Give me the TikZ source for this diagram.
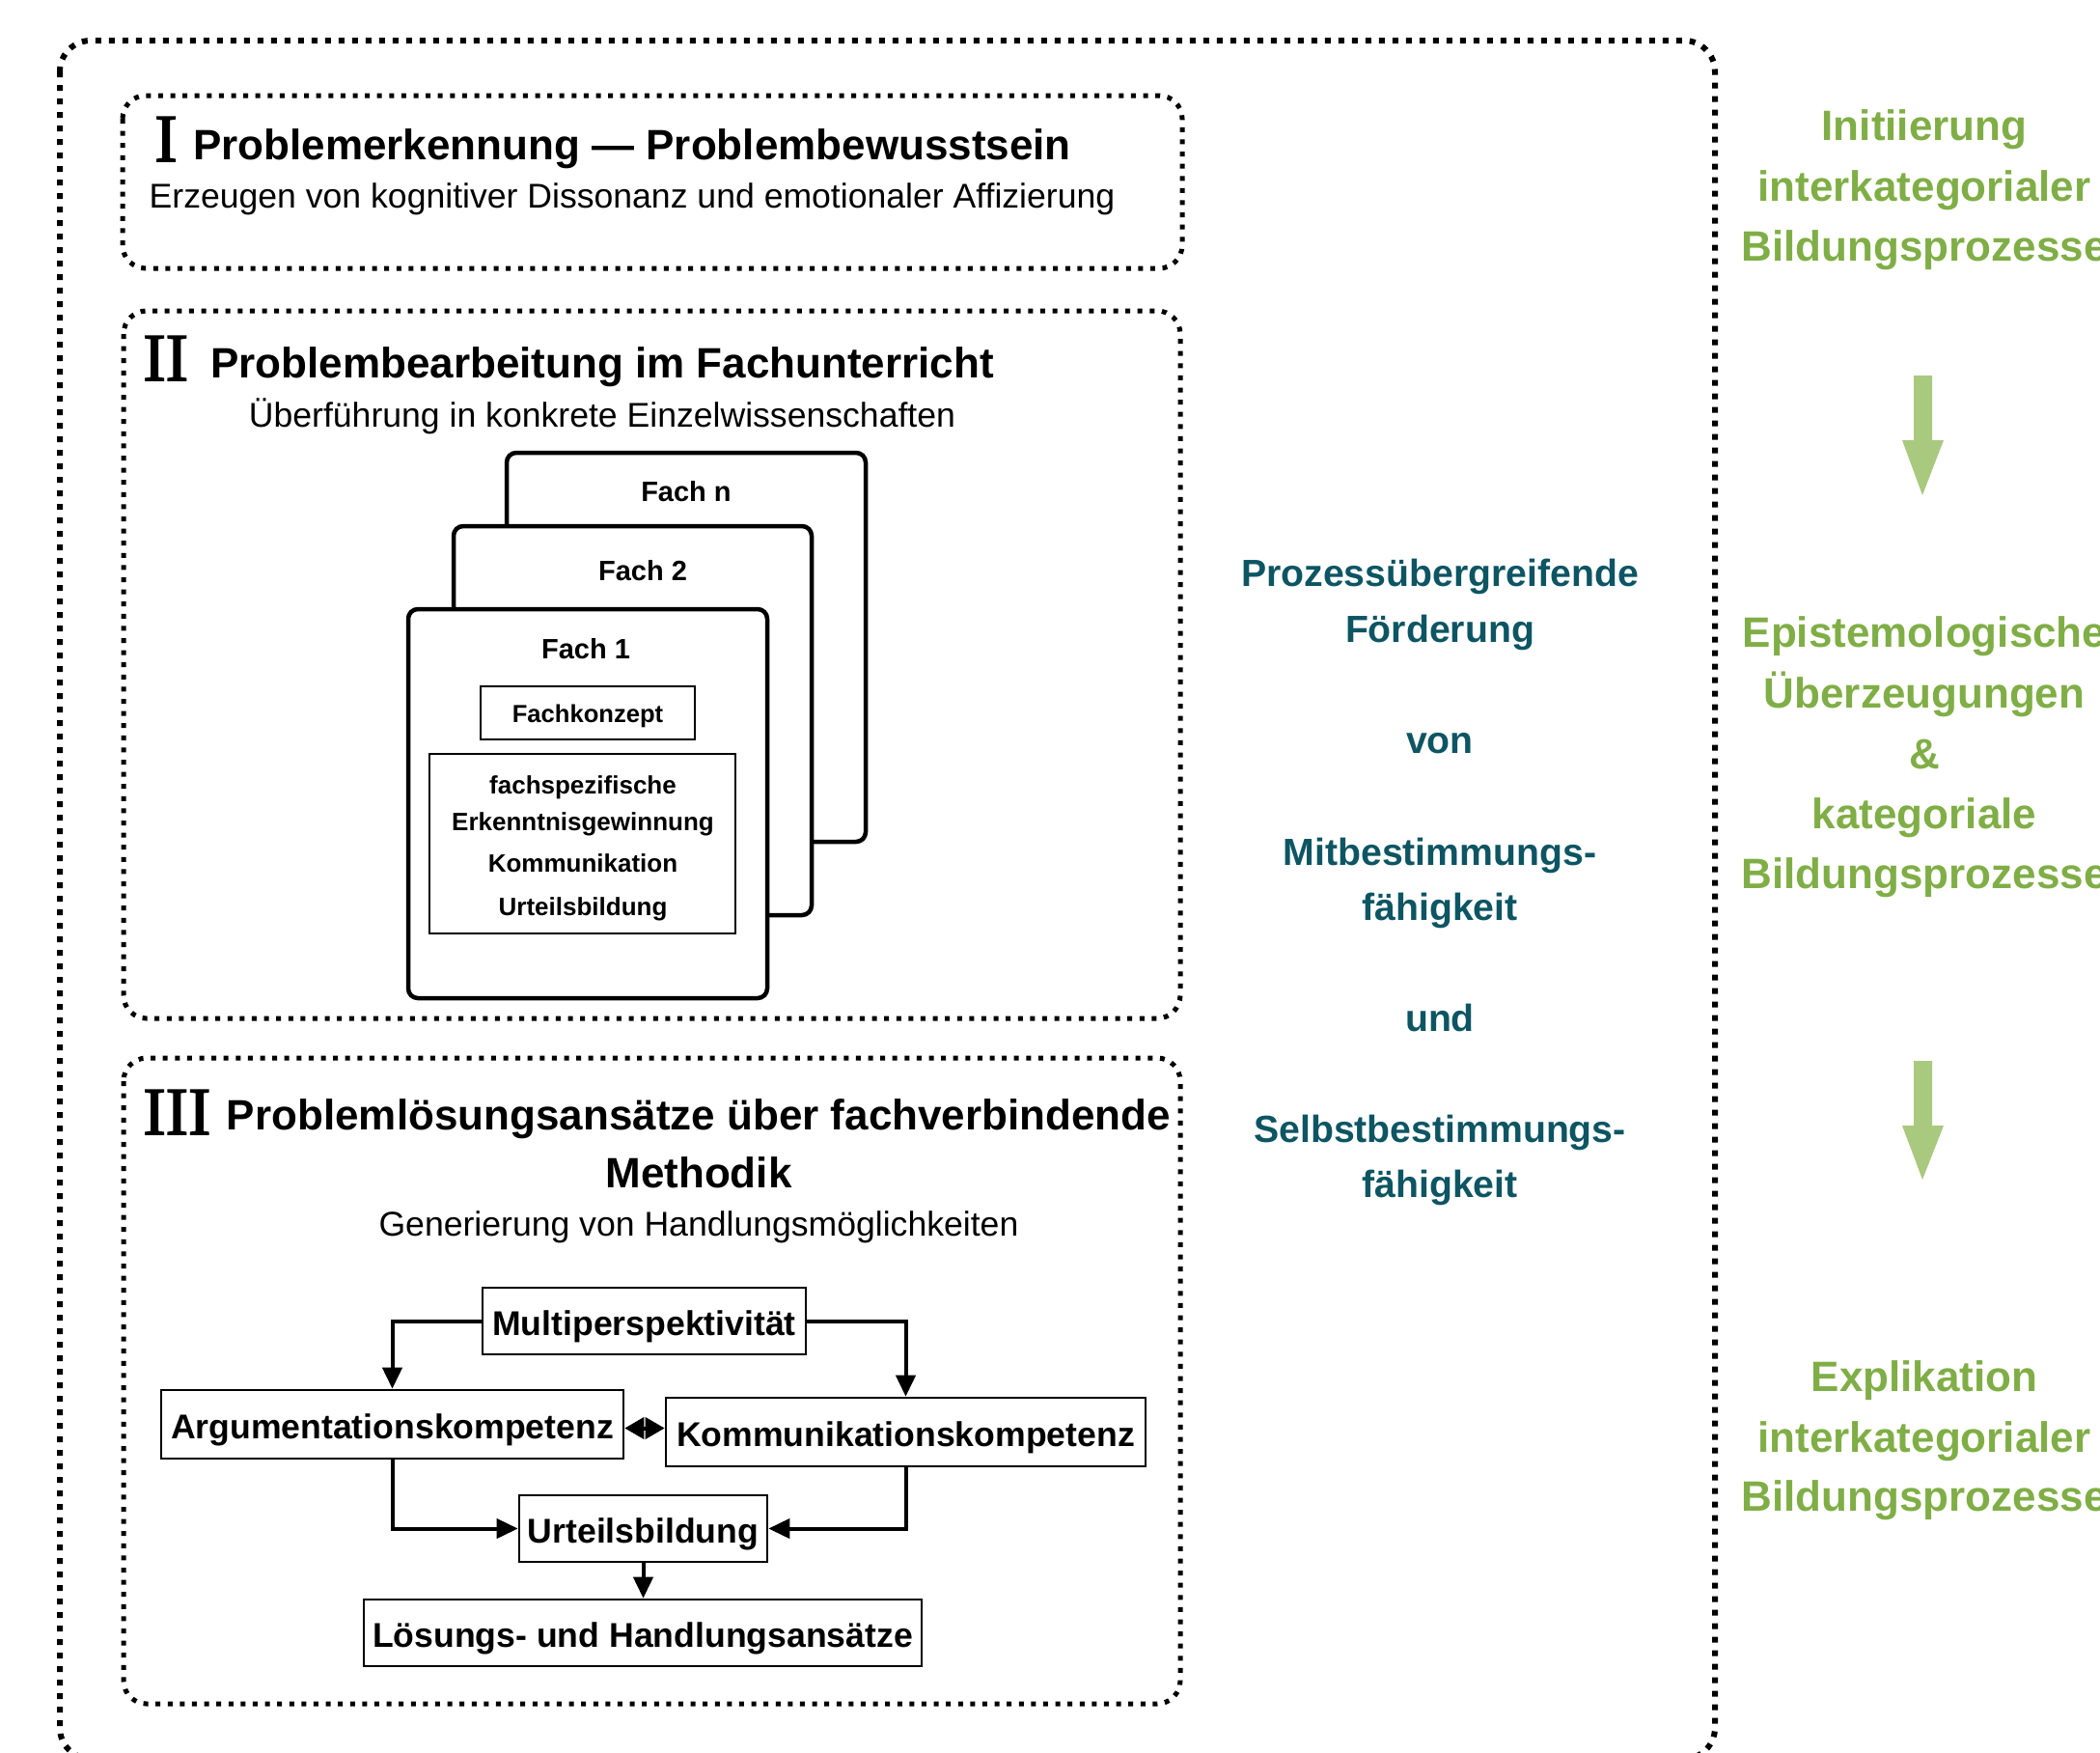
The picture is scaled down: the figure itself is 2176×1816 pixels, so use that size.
\documentclass[tikz,border=0pt]{standalone}
\usepackage{fontspec}
\setmainfont{Liberation Sans}
\newfontfamily\romfont[FakeBold=2.2]{Liberation Serif}
\usetikzlibrary{arrows.meta,calc}
\definecolor{tealtext}{HTML}{0D5563}
\definecolor{greentext}{HTML}{80AE46}
\definecolor{greenarrow}{HTML}{A9C97E}
\begin{document}
\begin{tikzpicture}[x=0.5pt,y=-0.5pt,
  outerbox/.style={draw,line width=3pt,dash pattern=on 3pt off 4pt,rounded corners=16pt},
  dotbox/.style={draw,line width=2.5pt,dash pattern=on 2.5pt off 3.8pt,rounded corners=12pt},
  card/.style={draw,fill=white,line width=2.25pt,rounded corners=5pt},
  roman/.style={anchor=base west,inner sep=0,font=\romfont\fontsize{35pt}{40pt}\selectfont},
  title/.style={anchor=base,inner sep=0,font=\bfseries\fontsize{22pt}{26pt}\selectfont},
  subtitle/.style={anchor=base,inner sep=0,font=\fontsize{17.8pt}{21pt}\selectfont},
  cardlabel/.style={anchor=base,inner sep=0,font=\bfseries\fontsize{14.5pt}{17pt}\selectfont},
  small/.style={anchor=base,inner sep=0,font=\bfseries\fontsize{13pt}{15pt}\selectfont},
  flowbox/.style={draw,line width=1.3pt,inner sep=0,text height=19pt,text depth=4pt,
    font=\bfseries\fontsize{17.8pt}{21pt}\selectfont},
  arr/.style={line width=2pt,-{Triangle[length=11pt,width=10pt]}},
  dia/.style={line width=2pt,{Triangle[length=10pt,width=11pt]}-{Triangle[length=10pt,width=11pt]}},
  tealline/.style={anchor=base,inner sep=0,text=tealtext,font=\bfseries\fontsize{19.6pt}{23pt}\selectfont},
  greenline/.style={anchor=base,inner sep=0,text=greentext,font=\bfseries\fontsize{22pt}{26pt}\selectfont}
]
\useasboundingbox (0,0) rectangle (2176,1816);

% outer dotted frame
\draw[outerbox] (62,42) rectangle (1777,1822);

% section boxes
\draw[dotbox] (127,99) rectangle (1225,278);
\draw[dotbox] (128,322) rectangle (1223,1055);
\draw[dotbox] (128,1096) rectangle (1223,1765);

% Section I
\node[roman] (r1) at (160,167) {I};
\node[title] (t1) at (655,165) {Problemerkennung — Problembewusstsein};
\node[subtitle] (s1) at (655,215) {Erzeugen von kognitiver Dissonanz und emotionaler Affizierung};

% Section II
\node[roman] (r2) at (148,394) {II};
\node[title] (t2) at (624,391) {Problembearbeitung im Fachunterricht};
\node[subtitle] (s2) at (624,442) {Überführung in konkrete Einzelwissenschaften};

% cards
\draw[card] (525,469) rectangle (897,872);
\node[cardlabel] (fn) at (711,519) {Fach n};
\draw[card] (470,545) rectangle (841,948);
\node[cardlabel] (f2) at (666,601) {Fach 2};
\draw[card] (423,631) rectangle (795,1034);
\node[cardlabel] (f1) at (607,682) {Fach 1};
\node[draw,line width=1.2pt,minimum width=111pt,minimum height=27.5pt,inner sep=0,
      text height=12.6pt,text depth=3pt,
      font=\bfseries\fontsize{12.8pt}{15pt}\selectfont] (fk) at (609,738.5) {Fachkonzept};
\draw[line width=1.2pt] (445,781) rectangle (762,967);
\node[small] (l1) at (604,822) {fachspezifische};
\node[small] (l2) at (604,860) {Erkenntnisgewinnung};
\node[small] (l3) at (604,903) {Kommunikation};
\node[small] (l4) at (604,948) {Urteilsbildung};

% Section III
\node[roman] (r3) at (148,1175) {III};
\node[title] (t3) at (724,1170) {Problemlösungsansätze über fachverbindende};
\node[title] (t3b) at (724,1230) {Methodik};
\node[subtitle] (s3) at (724,1280) {Generierung von Handlungsmöglichkeiten};

% flow
\node[flowbox,minimum width=167.5pt,minimum height=34.5pt] (multi) at (667.5,1368.5) {Multiperspektivität};
\node[flowbox,minimum width=239.5pt,minimum height=35.5pt] (arg) at (406.5,1475.5) {Argumentationskompetenz};
\node[flowbox,minimum width=248.5pt,minimum height=35.5pt] (komm) at (938.5,1483.5) {Kommunikationskompetenz};
\node[flowbox,minimum width=128.5pt,minimum height=34.5pt] (urt) at (666.5,1583.5) {Urteilsbildung};
\node[flowbox,minimum width=289pt,minimum height=34.5pt] (loes) at (666,1691.5) {Lösungs- und Handlungsansätze};

\draw[arr] (multi.west) -| (arg.north);
\draw[arr] (multi.east) -| (komm.north);
\draw[arr] (arg.south) |- (urt.west);
\draw[arr] (komm.south) |- (urt.east);
\draw[arr] (urt.south) -- (urt.south |- loes.north);
\draw[dia] ($(arg.east)+(0,4)$) -- ($(arg.east -| komm.west)+(0,4)$);

% middle teal text
\node[tealline] (m1) at (1492,607) {Prozessübergreifende};
\node[tealline] (m2) at (1492,665) {Förderung};
\node[tealline] (m3) at (1492,780) {von};
\node[tealline] (m4) at (1492,896) {Mitbestimmungs-};
\node[tealline] (m5) at (1492,953) {fähigkeit};
\node[tealline] (m6) at (1492,1068) {und};
\node[tealline] (m7) at (1492,1183) {Selbstbestimmungs-};
\node[tealline] (m8) at (1492,1240) {fähigkeit};

% right green text
\node[greenline] (g1) at (1994,145) {Initiierung};
\node[greenline] (g2) at (1994,208) {interkategorialer};
\node[greenline] (g3) at (1994,270) {Bildungsprozesse};
\node[greenline] (g4) at (1994,670) {Epistemologische};
\node[greenline] (g5) at (1994,733) {Überzeugungen};
\node[greenline] (g6) at (1994,796) {\&};
\node[greenline] (g7) at (1994,858) {kategoriale};
\node[greenline] (g8) at (1994,920) {Bildungsprozesse};
\node[greenline] (g9) at (1994,1441) {Explikation};
\node[greenline] (g10) at (1994,1504) {interkategorialer};
\node[greenline] (g11) at (1994,1565) {Bildungsprozesse};

% green block arrows
\fill[greenarrow] (1983,389) -- (2002,389) -- (2002,456) -- (2014,456) -- (1992,513) -- (1971,456) -- (1983,456) -- cycle;
\fill[greenarrow] (1983,1099) -- (2002,1099) -- (2002,1166) -- (2014,1166) -- (1992,1222) -- (1971,1166) -- (1983,1166) -- cycle;
\end{tikzpicture}
\end{document}
